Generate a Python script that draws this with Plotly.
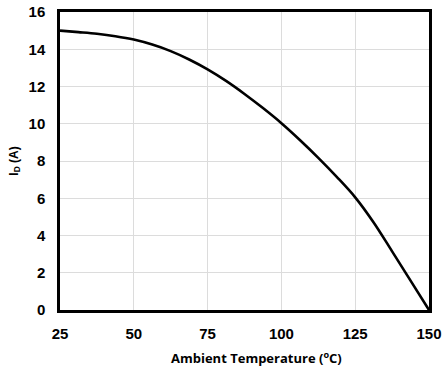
import plotly.graph_objects as go

temp_c = [25, 31.25, 37.5, 43.75, 50, 56.25, 62.5, 68.75, 75, 81.25, 87.5, 93.75,
          100, 106.25, 112.5, 118.75, 125, 131.25, 137.5, 143.75, 150]
id_a = [15.0, 14.92, 14.83, 14.7, 14.52, 14.25, 13.9, 13.45, 12.92, 12.3, 11.6, 10.84,
        10.03, 9.13, 8.17, 7.15, 6.05, 4.7, 3.15, 1.58, 0.0]
x_ticks = [25, 50, 75, 100, 125, 150]
y_ticks = [0, 2, 4, 6, 8, 10, 12, 14, 16]
x_title = "Ambient Temperature (<sup>o</sup>C)"
y_title = "I<sub>D</sub> (A)"

fig = go.Figure()
fig.add_trace(go.Scatter(x=temp_c, y=id_a, mode="lines", hoverinfo="skip",
                         line=dict(color="black", width=2.6, shape="spline", smoothing=1.0)))

fig.update_layout(
    width=443, height=369,
    margin=dict(l=60, r=14, t=12, b=59, autoexpand=False),
    paper_bgcolor="white", plot_bgcolor="white",
    showlegend=False,
    font=dict(family="Liberation Sans, Arial, sans-serif", color="black"),
)
fig.add_annotation(text=x_title, xref="paper", yref="paper", x=0.533, y=-0.158,
                   xanchor="center", yanchor="middle", showarrow=False,
                   font=dict(size=13, family="Open Sans, sans-serif", color="black", weight="bold"))
fig.update_xaxes(range=[25, 150], tickvals=x_ticks, ticks="",
                 automargin=False, ticklabelstandoff=8,
                 showgrid=True, gridcolor="#dcdcdc", gridwidth=1,
                 showline=True, linecolor="black", linewidth=2.5, mirror=True,
                 zeroline=False,
                 tickfont=dict(size=15, family="Liberation Sans, Arial", color="black", weight="bold"))
fig.update_yaxes(range=[0, 16], tickvals=y_ticks, ticks="",
                 automargin=False, ticklabelstandoff=9,
                 showgrid=True, gridcolor="#dcdcdc", gridwidth=1,
                 showline=True, linecolor="black", linewidth=2.5, mirror=True,
                 zeroline=False,
                 tickfont=dict(size=15, family="Liberation Sans, Arial", color="black", weight="bold"),
                 title=dict(text=y_title,
                            font=dict(size=12, family="Liberation Sans, Arial", color="black", weight="bold"),
                            standoff=8))

fig.write_html("out.html", config={"displayModeBar": False},
               post_script="document.body.style.margin='0';document.body.style.overflow='hidden';")
